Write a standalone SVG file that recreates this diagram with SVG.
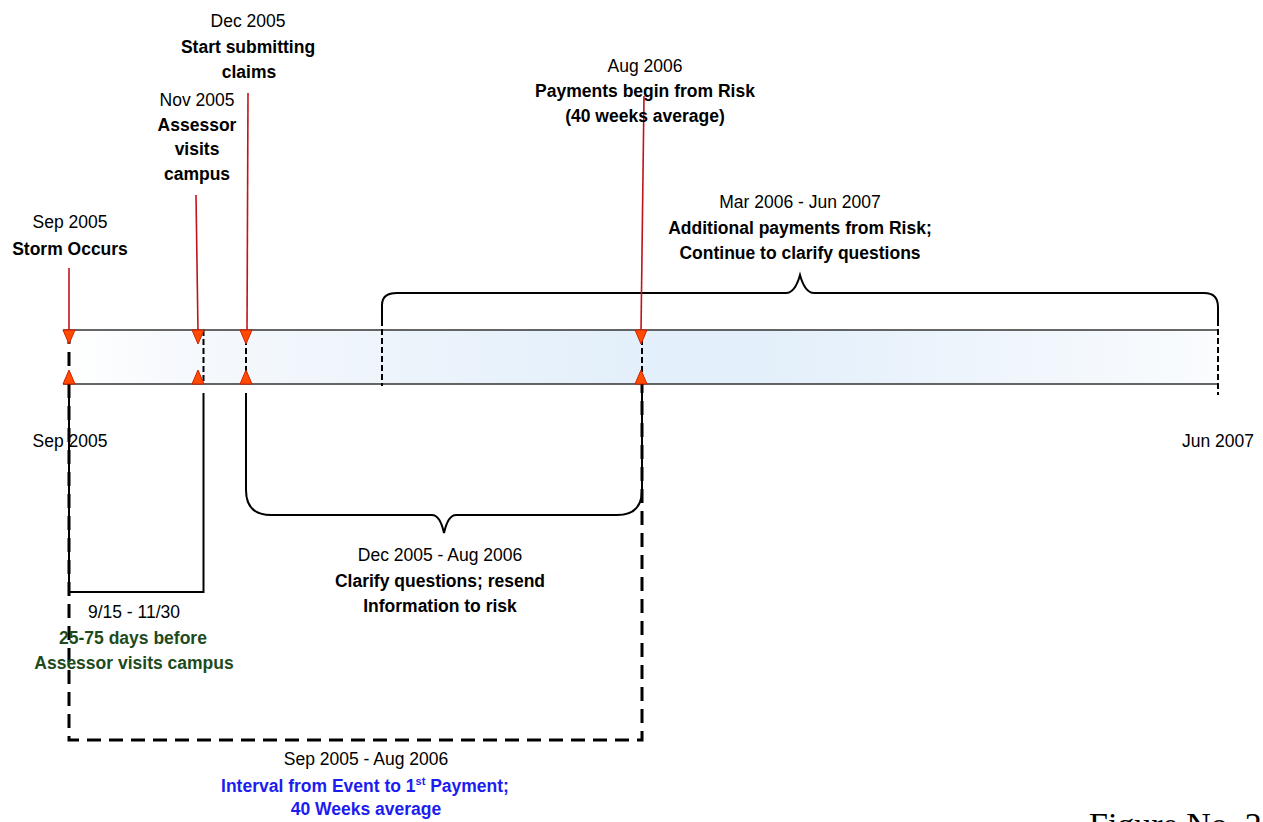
<svg xmlns="http://www.w3.org/2000/svg" width="1263" height="822" viewBox="0 0 1263 822">
<style>
text{font-family:"Liberation Sans",Arial,sans-serif;font-size:17.5px;text-anchor:middle;fill:#000}
.b{font-weight:bold}
.g{fill:#1d4b1d}
.bl{fill:#1c1cf0}
.red{stroke:#c0141c;stroke-width:1.6;fill:none}
.tri{fill:#ff4a00;stroke:#d02000;stroke-width:1}
.dash{stroke:#000;stroke-width:2;stroke-dasharray:6 3;fill:none}
.thick{stroke:#000;stroke-width:3;stroke-dasharray:14 8;fill:none}
.sol{stroke:#000;stroke-width:2;fill:none}
.fig{font-family:"Liberation Serif","Times New Roman",serif;font-size:34px;text-anchor:start}
</style>
<defs>
<linearGradient id="barg" x1="0" y1="0" x2="1" y2="0">
<stop offset="0" stop-color="#ffffff"/>
<stop offset="0.1" stop-color="#f6f9fd"/>
<stop offset="0.3" stop-color="#ecf4fb"/>
<stop offset="0.5" stop-color="#e3effa"/>
<stop offset="0.6" stop-color="#e3effa"/>
<stop offset="0.8" stop-color="#eef5fc"/>
<stop offset="1" stop-color="#fafcfe"/>
</linearGradient>
</defs>
<g id="bar">
<rect x="64" y="330" width="1154" height="54" fill="url(#barg)"/>
<line x1="63" y1="330" x2="1218" y2="330" stroke="#333" stroke-width="1.6"/>
<line x1="63" y1="384" x2="1218" y2="384" stroke="#333" stroke-width="1.6"/>
</g>
<g id="connectors">
<line class="thick" x1="69" y1="330" x2="69" y2="384"/>
<line class="dash" x1="203.5" y1="330" x2="203.5" y2="384"/>
<line class="dash" x1="246" y1="330" x2="246" y2="384"/>
<line class="dash" x1="382" y1="320" x2="382" y2="386"/>
<line class="dash" x1="642" y1="330" x2="642" y2="384"/>
<line class="dash" x1="1218" y1="320" x2="1218" y2="395"/>
<path class="thick" d="M69,384 L69,740 L642,740 L642,384"/>
<path class="sol" d="M69,393 L69,592 L203.5,592 L203.5,393"/>
<path class="sol" d="M246,393 L246,490 Q246,515 271,515 L432,515 Q440,515 444,533 Q448,515 456,515 L617,515 Q642,515 642,490 L642,393"/>
<path class="sol" d="M382,320 L382,305 Q382,293 397,293 L786,293 Q795,293 800,275 Q805,293 814,293 L1204,293 Q1218,293 1218,307 L1218,320"/>
<line class="red" x1="69" y1="268" x2="69" y2="332"/>
<line class="red" x1="196" y1="195" x2="198" y2="332"/>
<line class="red" x1="248" y1="93" x2="247" y2="332"/>
<line class="red" x1="644" y1="96" x2="641" y2="332"/>
</g>
<g id="markers">
<path class="tri" d="M63,330 L75,330 L69,344 Z"/>
<path class="tri" d="M63,384 L75,384 L69,370 Z"/>
<path class="tri" d="M192,330 L204,330 L198,344 Z"/>
<path class="tri" d="M192,384 L204,384 L198,370 Z"/>
<path class="tri" d="M240,330 L252,330 L246,344 Z"/>
<path class="tri" d="M240,384 L252,384 L246,370 Z"/>
<path class="tri" d="M635,330 L647,330 L641,344 Z"/>
<path class="tri" d="M635,384 L647,384 L641,370 Z"/>
</g>
<g id="n-storm">
<text x="70" y="228">Sep 2005</text>
<text class="b" x="70" y="255">Storm Occurs</text>
</g>
<g id="n-assessor">
<text x="197" y="106">Nov 2005</text>
<text class="b" x="197" y="131">Assessor</text>
<text class="b" x="197" y="155">visits</text>
<text class="b" x="197" y="180">campus</text>
</g>
<g id="n-claims">
<text x="248" y="27">Dec 2005</text>
<text class="b" x="248" y="53">Start submitting</text>
<text class="b" x="249" y="78">claims</text>
</g>
<g id="n-payments">
<text x="645" y="72">Aug 2006</text>
<text class="b" x="645" y="97">Payments begin from Risk</text>
<text class="b" x="645" y="122">(40 weeks average)</text>
</g>
<g id="n-additional">
<text x="800" y="208">Mar 2006 - Jun 2007</text>
<text class="b" x="800" y="234">Additional payments from Risk;</text>
<text class="b" x="800" y="259">Continue to clarify questions</text>
</g>
<g id="axis-labels">
<text x="70" y="447">Sep 2005</text>
<text x="1218" y="447">Jun 2007</text>
</g>
<g id="n-visit-interval">
<text x="134" y="618">9/15 - 11/30</text>
<text class="b g" x="133" y="644">25-75 days before</text>
<text class="b g" x="134" y="669">Assessor visits campus</text>
</g>
<g id="n-clarify">
<text x="440" y="561">Dec 2005 - Aug 2006</text>
<text class="b" x="440" y="587">Clarify questions; resend</text>
<text class="b" x="440" y="612">Information to risk</text>
</g>
<g id="n-interval">
<text x="366" y="765">Sep 2005 - Aug 2006</text>
<text class="b bl" x="365" y="792">Interval from Event to 1<tspan font-size="11" dy="-7">st</tspan><tspan dy="7"> Payment;</tspan></text>
<text class="b bl" x="366" y="815">40 Weeks average</text>
</g>
<g id="caption">
<text class="fig" x="1089" y="836">Figure No. 2</text>
</g>
</svg>
